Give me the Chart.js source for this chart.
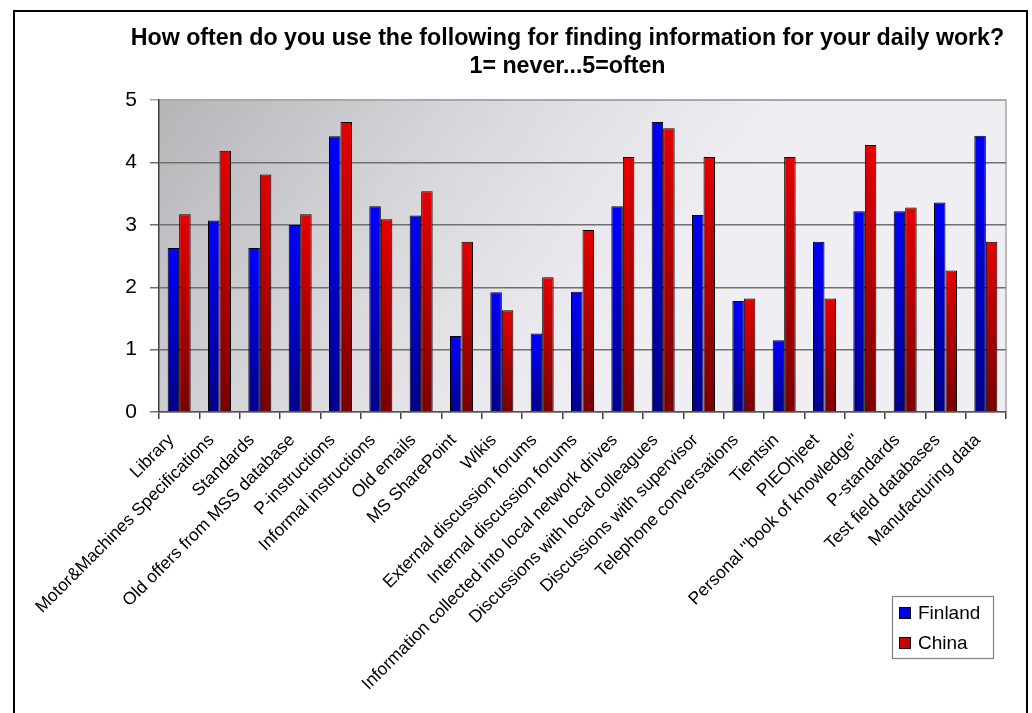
<!DOCTYPE html>
<html>
<head>
<meta charset="utf-8">
<title>Information sources</title>
<script src="https://cdn.jsdelivr.net/npm/chart.js"></script>
<style>
  body { margin: 0; background: #fff; }
  #wrap { position: relative; width: 1032px; height: 713px; overflow: hidden; }
  #frame { position: absolute; left: 13px; top: 10px; width: 1011px; height: 720px; border: 2px solid #000; pointer-events: none; }
  canvas { position: absolute; left: 0; top: 0; }
</style>
</head>
<body>
<div id="wrap">
  <canvas id="usageChart" width="1032" height="713"></canvas>
  <div id="frame"></div>
</div>
<script>
const categories = [
  'Library',
  'Motor&Machines Specifications',
  'Standards',
  'Old offers from MSS database',
  'P-instructions',
  'Informal instructions',
  'Old emails',
  'MS SharePoint',
  'Wikis',
  'External discussion forums',
  'Internal discussion forums',
  'Information collected into local network drives',
  'Discussions with local colleagues',
  'Discussions with supervisor',
  'Telephone conversations',
  'Tientsin',
  'PIEOhjeet',
  "Personal ''book of knowledge''",
  'P-standards',
  'Test field databases',
  'Manufacturing data'
];
const finland = [2.63, 3.07, 2.63, 3.00, 4.42, 3.30, 3.15, 1.22, 1.92, 1.26, 1.93, 3.30, 4.65, 3.16, 1.78, 1.15, 2.73, 3.22, 3.22, 3.36, 4.43];
const china   = [3.17, 4.19, 3.81, 3.17, 4.65, 3.09, 3.54, 2.73, 1.63, 2.16, 2.92, 4.09, 4.55, 4.09, 1.82, 4.09, 1.82, 4.28, 3.28, 2.27, 2.73];
const seriesNames = ['Finland', 'China'];
const titleLines = ['How often do you use the following for finding information for your daily work?', '1= never...5=often'];

const FONT = "'Liberation Sans', Arial, sans-serif";

// vertical gradient per bar, bright at the top, dark at the base
function barFill(top, bottom) {
  return (context) => {
    const chart = context.chart;
    if (!chart.chartArea || context.raw === undefined) return top;
    const y = chart.scales.y;
    const y0 = y.getPixelForValue(0);
    const y1 = y.getPixelForValue(context.raw);
    if (!isFinite(y1) || y0 - y1 < 1) return top;
    const g = chart.ctx.createLinearGradient(0, y1, 0, y0);
    g.addColorStop(0, top);
    g.addColorStop(1, bottom);
    return g;
  };
}

// grey shaded plot area with a light frame on top and right
const plotBackground = {
  id: 'plotBackground',
  beforeDraw(chart) {
    const { ctx, chartArea: a } = chart;
    ctx.save();
    const g = ctx.createLinearGradient(a.left, a.top, a.left + a.width * 0.5, a.bottom);
    g.addColorStop(0, '#b5b5b8');
    g.addColorStop(0.45, '#d5d5d9');
    g.addColorStop(0.8, '#e8e7eb');
    g.addColorStop(1, '#efeef2');
    ctx.fillStyle = g;
    ctx.fillRect(a.left, a.top, a.width, a.height);
    ctx.strokeStyle = '#a8a8a8';
    ctx.lineWidth = 1.5;
    ctx.beginPath();
    ctx.moveTo(a.left, a.top);
    ctx.lineTo(a.right, a.top);
    ctx.lineTo(a.right, a.bottom);
    ctx.stroke();
    ctx.restore();
  }
};

// boxed legend in the lower right corner
const boxLegend = {
  id: 'boxLegend',
  afterDraw(chart) {
    const { ctx, chartArea: a } = chart;
    const x = a.right - 114, y = a.bottom + 184, w = 101, h = 62;
    const swatch = ['#0000ee', '#cc0000'];
    ctx.save();
    ctx.fillStyle = '#fff';
    ctx.fillRect(x, y, w, h);
    ctx.strokeStyle = '#808080';
    ctx.lineWidth = 1.2;
    ctx.strokeRect(x + 0.5, y + 0.5, w, h);
    ctx.font = '19px ' + FONT;
    ctx.textBaseline = 'middle';
    chart.data.datasets.forEach((ds, i) => {
      const cy = y + 17 + i * 30;
      ctx.fillStyle = swatch[i];
      ctx.fillRect(x + 7, cy - 6, 12, 12);
      ctx.strokeStyle = '#000';
      ctx.lineWidth = 1;
      ctx.strokeRect(x + 7.5, cy - 5.5, 11, 11);
      ctx.fillStyle = '#000';
      ctx.fillText(ds.label, x + 26, cy + 1);
    });
    ctx.restore();
  }
};

const ctx = document.getElementById('usageChart').getContext('2d');

const usageChart = new Chart(ctx, {
  type: 'bar',
  data: {
    labels: categories,
    datasets: [{
      label: seriesNames[0],
      data: finland,
      backgroundColor: barFill('#0000ff', '#00008a'),
      borderColor: '#000',
      borderWidth: 1
    }, {
      label: seriesNames[1],
      data: china,
      backgroundColor: barFill('#e60000', '#780000'),
      borderColor: '#000',
      borderWidth: 1
    }]
  },
  options: {
    responsive: false,
    animation: false,
    devicePixelRatio: 1,
    layout: { padding: { left: 118, right: 15, top: 0, bottom: 0 } },
    datasets: {
      bar: { barPercentage: 1, categoryPercentage: 0.57 }
    },
    plugins: {
      legend: { display: false },
      tooltip: { enabled: false },
      title: {
        display: true,
        text: titleLines,
        color: '#000',
        font: { family: FONT, size: 23.2, weight: 'bold' },
        padding: { top: 24.5, bottom: 20 }
      }
    },
    scales: {
      x: {
        grid: {
          offset: true,
          drawOnChartArea: false,
          tickLength: 7,
          color: '#404040',
          lineWidth: 1.5
        },
        border: { color: '#555', width: 1.5 },
        ticks: {
          autoSkip: false,
          minRotation: 45,
          maxRotation: 45,
          padding: 11,
          labelOffset: -8,
          color: '#000',
          font: { family: FONT, size: 17.5 }
        },
        afterFit(scale) {
          scale.height = 301;
          // keep the plot's right edge clear of the outer frame
          scale.paddingRight = 26;
        }
      },
      y: {
        min: 0,
        max: 5,
        grid: {
          color: (c) => c.tick && c.tick.value === 5 ? '#a8a8a8' : '#707070',
          lineWidth: 1.5,
          tickLength: 9
        },
        border: { color: '#404040', width: 1.5 },
        ticks: {
          stepSize: 1,
          padding: 13,
          color: '#000',
          font: { family: FONT, size: 21 }
        },
        afterFit(scale) { scale.width = 41; }
      }
    }
  },
  plugins: [plotBackground, boxLegend]
});
</script>
</body>
</html>
